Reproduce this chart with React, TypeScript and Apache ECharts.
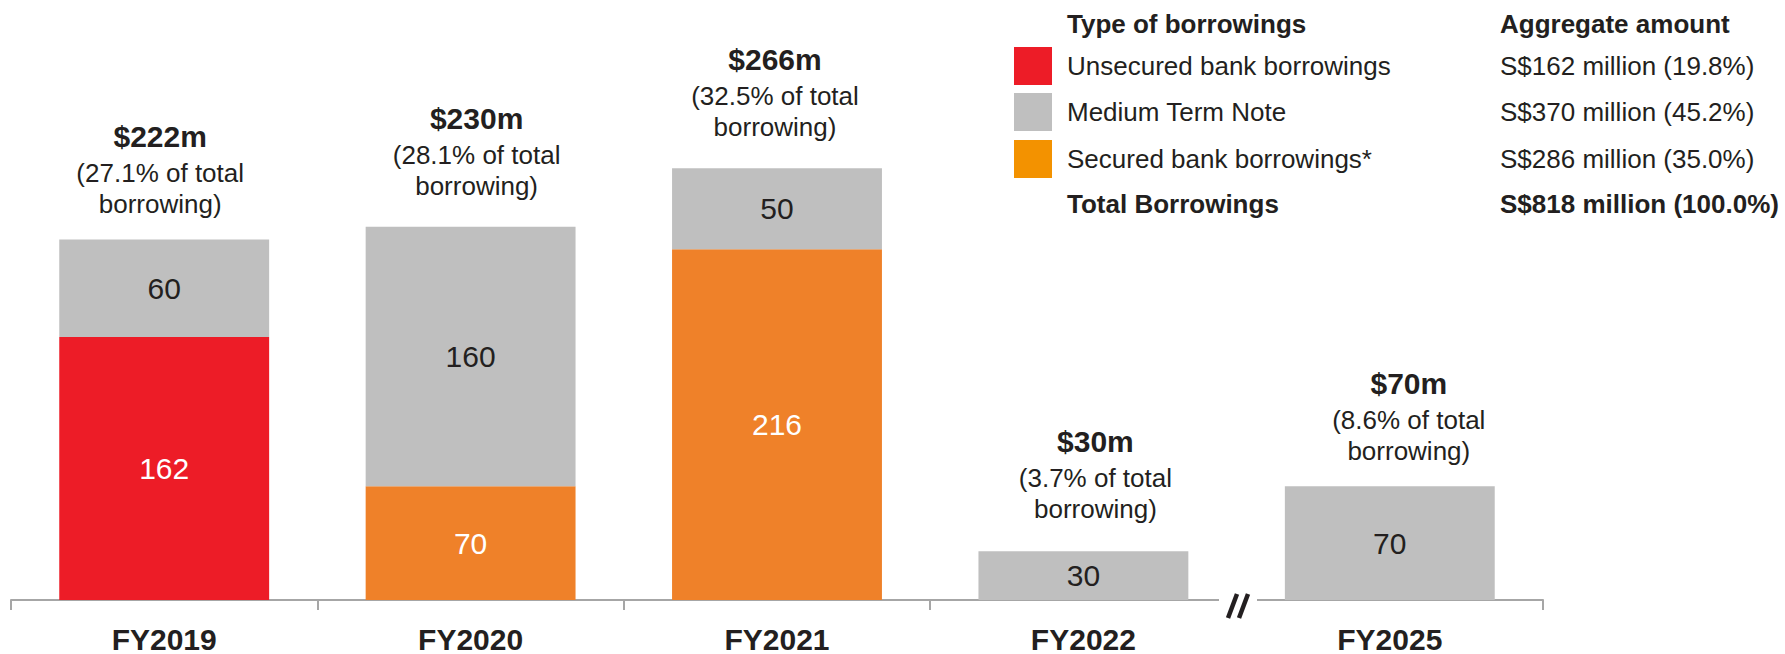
import React, { useEffect, useRef } from 'react';
import * as echarts from 'echarts';

// ---- data ----
const categories = ['FY2019', 'FY2020', 'FY2021', 'FY2022', 'FY2025'];
const unsecured: (number | string)[] = [162, '-', '-', '-', '-'];
const secured: (number | string)[] = ['-', 70, 216, '-', '-'];
const mediumTermNote: (number | string)[] = [60, 160, 50, 30, 70];
const shareOfTotal = ['27.1', '28.1', '32.5', '3.7', '8.6'];

const legendHeaders = ['Type of borrowings', 'Aggregate amount'];
const legendTypes = ['Unsecured bank borrowings', 'Medium Term Note', 'Secured bank borrowings*'];
const legendAmounts = ['S$162 million (19.8%)', 'S$370 million (45.2%)', 'S$286 million (35.0%)'];
const totalRow = ['Total Borrowings', 'S$818 million (100.0%)'];

// ---- styles ----
const FONT = '"Liberation Sans", Arial, Helvetica, sans-serif';
const TEXT = '#231F20';
const RED = '#ED1C27';
const GRAY = '#BFBFBF';
const ORANGE = '#EF8129';
const LEGEND_ORANGE = '#F39200';
const AXIS = '#A6A6A6';
const legendColors = [RED, GRAY, LEGEND_ORANGE];
const topLabelOffsets = [[-4, 4], [6, -1.5], [-2, -2], [12, -3], [19, 4]];

const num = (v: number | string) => (typeof v === 'number' ? v : 0);
const totals = categories.map((_, i) => num(unsecured[i]) + num(secured[i]) + num(mediumTermNote[i]));

export default function App() {
  const ref = useRef<HTMLDivElement>(null);
  useEffect(() => {
    if (!ref.current) return;
    const chart = echarts.init(ref.current, undefined, { renderer: 'svg' });

    const valueLabel = (color: string) => ({
      show: true,
      position: 'inside',
      formatter: '{c}',
      color,
      fontSize: 30,
      fontFamily: FONT,
    });

    const legendGraphics: any[] = [];
    const colX = [1067, 1500];
    legendHeaders.forEach((h, j) => {
      legendGraphics.push({
        type: 'text', z: 100,
        style: { text: h, x: colX[j], y: 24, fill: TEXT, fontSize: 26, fontWeight: 'bold', fontFamily: FONT, verticalAlign: 'middle', align: 'left' },
      });
    });
    const rowY = [66, 112, 159];
    legendTypes.forEach((t, i) => {
      legendGraphics.push({
        type: 'rect', z: 100,
        shape: { x: 1014, y: rowY[i] - 19, width: 38, height: 38 },
        style: { fill: legendColors[i] },
      });
      legendGraphics.push({
        type: 'text', z: 100,
        style: { text: t, x: colX[0], y: rowY[i], fill: TEXT, fontSize: 26, fontFamily: FONT, verticalAlign: 'middle', align: 'left' },
      });
      legendGraphics.push({
        type: 'text', z: 100,
        style: { text: legendAmounts[i], x: colX[1], y: rowY[i], fill: TEXT, fontSize: 26, fontFamily: FONT, verticalAlign: 'middle', align: 'left' },
      });
    });
    totalRow.forEach((t, j) => {
      legendGraphics.push({
        type: 'text', z: 100,
        style: { text: t, x: colX[j], y: 204, fill: TEXT, fontSize: 26, fontWeight: 'bold', fontFamily: FONT, verticalAlign: 'middle', align: 'left' },
      });
    });

    // axis break
    const breakGraphics = [
      { type: 'rect', z: 100, shape: { x: 1219, y: 594, width: 38, height: 22 }, style: { fill: '#FFFFFF' } },
      { type: 'line', z: 101, shape: { x1: 1228, y1: 618, x2: 1237, y2: 594 }, style: { stroke: TEXT, lineWidth: 4.5 } },
      { type: 'line', z: 101, shape: { x1: 1239, y1: 618, x2: 1248, y2: 594 }, style: { stroke: TEXT, lineWidth: 4.5 } },
    ];

    chart.setOption({
      animation: false,
      grid: { left: 11, right: 242, top: 113, bottom: 52 },
      xAxis: {
        type: 'category',
        data: categories,
        boundaryGap: true,
        axisLine: { show: true, lineStyle: { color: AXIS, width: 2 } },
        axisTick: { show: true, interval: 0, alignWithLabel: false, length: 10, lineStyle: { color: AXIS, width: 2 } },
        axisLabel: { interval: 0, margin: 24, color: TEXT, fontSize: 30, fontWeight: 'bold', fontFamily: FONT },
      },
      yAxis: { type: 'value', min: 0, max: 300, show: false },
      series: [
        { name: 'Unsecured bank borrowings', type: 'bar', stack: 'total', barWidth: '68.5%', data: unsecured, itemStyle: { color: RED }, label: valueLabel('#FFFFFF') },
        { name: 'Secured bank borrowings*', type: 'bar', stack: 'total', barWidth: '68.5%', data: secured, itemStyle: { color: ORANGE }, label: valueLabel('#FFFFFF') },
        { name: 'Medium Term Note', type: 'bar', stack: 'total', barWidth: '68.5%', data: mediumTermNote, itemStyle: { color: GRAY }, label: valueLabel(TEXT) },
        {
          name: 'Total', type: 'scatter', symbolSize: 0, silent: true,
          itemStyle: { opacity: 1, color: TEXT },
          data: totals.map((v, i) => ({ value: v, label: { offset: topLabelOffsets[i] } })),
          label: {
            show: true,
            position: 'top',
            distance: 24,
            align: 'center',
            opacity: 1,
            color: TEXT,
            formatter: (p: any) => `{t|$${totals[p.dataIndex]}m}\n{s|(${shareOfTotal[p.dataIndex]}% of total}\n{s|borrowing)}`,
            rich: {
              t: { fontSize: 30, fontWeight: 'bold', lineHeight: 42, color: TEXT, fontFamily: FONT, align: 'center' },
              s: { fontSize: 26, lineHeight: 31, color: TEXT, fontFamily: FONT, align: 'center' },
            },
          },
        },
      ],
      graphic: [...legendGraphics, ...breakGraphics],
    });
    return () => chart.dispose();
  }, []);
  return <div ref={ref} style={{ position: 'fixed', left: 0, top: 0, width: 1785, height: 654, background: '#fff' }} />;
}
